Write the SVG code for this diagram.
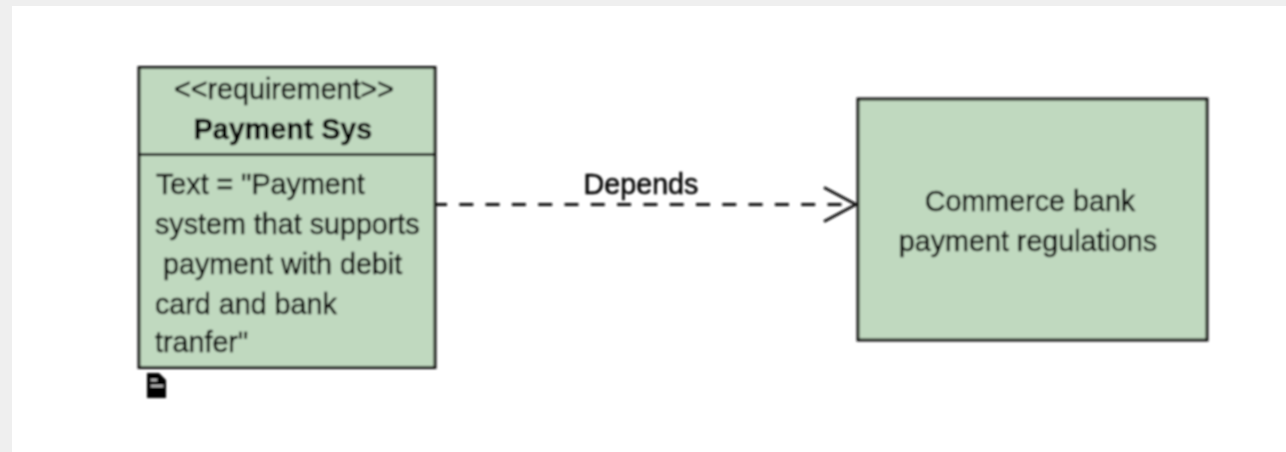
<svg xmlns="http://www.w3.org/2000/svg" width="1286" height="452" viewBox="0 0 1286 452">
<defs>
<filter id="soft" x="0" y="0" width="1286" height="452" filterUnits="userSpaceOnUse"><feGaussianBlur stdDeviation="0.8"/></filter>
<marker id="open" markerUnits="userSpaceOnUse" markerWidth="40" markerHeight="44" refX="34" refY="22" orient="auto"><path d="M2 5 L34 22 L2 39" fill="none" stroke="#111" stroke-width="2.800"/></marker>
</defs>
<style>
.t{font-family:"Liberation Sans",Arial,sans-serif;font-size:28.7px;fill:#000;stroke:#000;stroke-width:0.500}
.box{fill:#c0d9bf;stroke:#111;stroke-width:3}
</style>
<rect width="1286" height="452" fill="#efefef"/>
<rect x="12" y="6" width="1274" height="446" fill="#fff"/>
<g filter="url(#soft)">
<g id="payment-sys">
<rect class="box" x="139" y="67.500" width="296" height="300"/>
<line x1="139" y1="154.500" x2="435" y2="154.500" stroke="#111" stroke-width="3"/>
<text class="t" x="284" y="99" text-anchor="middle">&lt;&lt;requirement&gt;&gt;</text>
<text class="t" x="283" y="139" text-anchor="middle" font-weight="bold">Payment Sys</text>
<text class="t" x="156" y="194">Text = "Payment</text>
<text class="t" x="155" y="234">system that supports</text>
<text class="t" x="155" y="274" xml:space="preserve"> payment with debit</text>
<text class="t" x="155" y="314">card and bank</text>
<text class="t" x="155" y="352">tranfer"</text>
</g>
<g id="note-icon">
<path d="M147 373H159L166 380V398H147Z" fill="#000"/>
<path d="M151 380H157M151 386H163" stroke="#fff" stroke-width="1.500"/>
</g>
<g id="commerce-bank">
<rect class="box" x="858" y="99" width="349" height="241"/>
<text class="t" x="1030" y="211" text-anchor="middle">Commerce bank</text>
<text class="t" x="1028" y="251" text-anchor="middle">payment regulations</text>
</g>
<g id="connectors">
<line x1="436" y1="204.500" x2="856" y2="204.500" stroke="#111" stroke-width="2.800" stroke-dasharray="14 12.300" stroke-dashoffset="3" marker-end="url(#open)"/>
<text class="t" x="641" y="194" text-anchor="middle">Depends</text>
</g>
</g>
</svg>
